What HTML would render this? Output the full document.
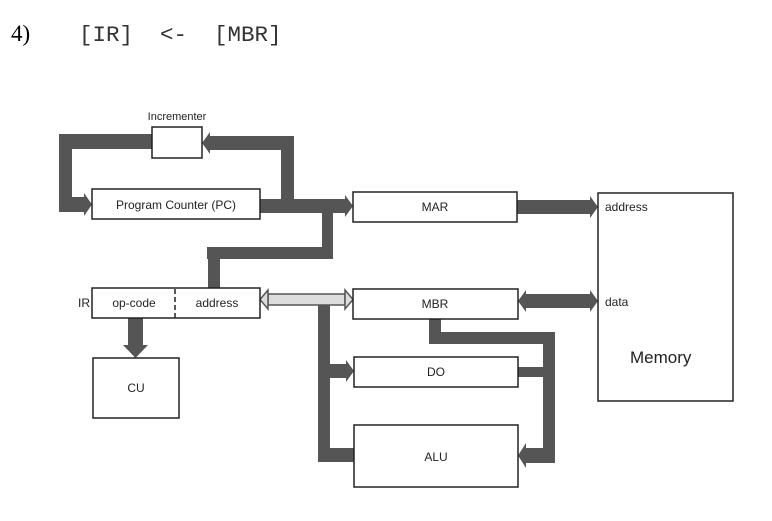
<!DOCTYPE html>
<html><head><style>
html,body{margin:0;padding:0;background:#fff;}
svg{display:block;}
</style></head><body>
<svg width="772" height="521" viewBox="0 0 772 521" xmlns="http://www.w3.org/2000/svg">
<text x="11" y="41" font-family="Liberation Serif, serif" font-size="23">4)</text>
<text x="79" y="41" font-family="Liberation Mono, monospace" font-size="22.5" fill="#333" xml:space="preserve">[IR]  &lt;-  [MBR]</text>
<g fill="#555">
<rect x="59" y="134" width="93" height="15"/>
<rect x="59" y="134" width="13" height="78"/>
<rect x="59" y="197" width="27" height="15"/>
<polygon points="84,193 92,204.5 84,216"/>
<rect x="281" y="136" width="13" height="63"/>
<rect x="208" y="136" width="86" height="14"/>
<polygon points="210,132 202,143 210,154"/>
<rect x="260" y="199" width="86" height="14"/>
<polygon points="345,195 353,206 345,217"/>
<rect x="322" y="199" width="11" height="60"/>
<rect x="207" y="247" width="126" height="12"/>
<rect x="208" y="247" width="12" height="41"/>
<rect x="517" y="200" width="74" height="14"/>
<polygon points="590,196 598,207 590,218"/>
<rect x="525" y="294" width="66" height="14"/>
<polygon points="526,290 518,301 526,312"/>
<polygon points="590,290 598,301 590,312"/>
<rect x="128" y="318" width="15" height="30"/>
<polygon points="123,345 148,345 135.5,358"/>
<rect x="318" y="303" width="12" height="159"/>
<rect x="318" y="448" width="36" height="14"/>
<rect x="318" y="364" width="29" height="14"/>
<polygon points="346,360 354,371 346,382"/>
<rect x="429" y="319" width="12" height="25"/>
<rect x="429" y="332" width="126" height="12"/>
<rect x="543" y="332" width="12" height="131"/>
<rect x="524" y="448" width="31" height="15"/>
<polygon points="526,443 518,455.5 526,468"/>
<rect x="518" y="367" width="30" height="10"/>
</g>
<rect x="268" y="294" width="77" height="11" fill="#ddd" stroke="#555" stroke-width="1.5"/>
<polygon points="268,290 260,299.5 268,309" fill="#ddd" stroke="#555" stroke-width="1.5"/>
<polygon points="345,290 353,299.5 345,309" fill="#ddd" stroke="#555" stroke-width="1.5"/>
<g fill="#fff" stroke="#222" stroke-width="1.5">
<rect x="152" y="127" width="50" height="31"/>
<rect x="92" y="189" width="168" height="30"/>
<rect x="353" y="192" width="164" height="30"/>
<rect x="92" y="288" width="168" height="30"/>
<rect x="353" y="289" width="165" height="30"/>
<rect x="354" y="357" width="164" height="30"/>
<rect x="354" y="425" width="164" height="62"/>
<rect x="93" y="358" width="86" height="60"/>
<rect x="598" y="193" width="135" height="208"/>
</g>
<line x1="175" y1="289" x2="175" y2="318" stroke="#222" stroke-width="1.5" stroke-dasharray="5,3"/>
<g font-family="Liberation Sans, sans-serif" font-size="12" fill="#222">
<text x="177" y="120" text-anchor="middle" font-size="11">Incrementer</text>
<text x="176" y="209" text-anchor="middle">Program Counter (PC)</text>
<text x="435" y="211" text-anchor="middle">MAR</text>
<text x="78" y="307">IR</text>
<text x="134" y="307" text-anchor="middle">op-code</text>
<text x="217" y="307" text-anchor="middle">address</text>
<text x="435" y="308" text-anchor="middle">MBR</text>
<text x="436" y="376" text-anchor="middle">DO</text>
<text x="436" y="461" text-anchor="middle">ALU</text>
<text x="136" y="392" text-anchor="middle">CU</text>
<text x="605" y="211">address</text>
<text x="605" y="306">data</text>
<text x="630" y="363" font-size="17">Memory</text>
</g>
</svg>
</body></html>
